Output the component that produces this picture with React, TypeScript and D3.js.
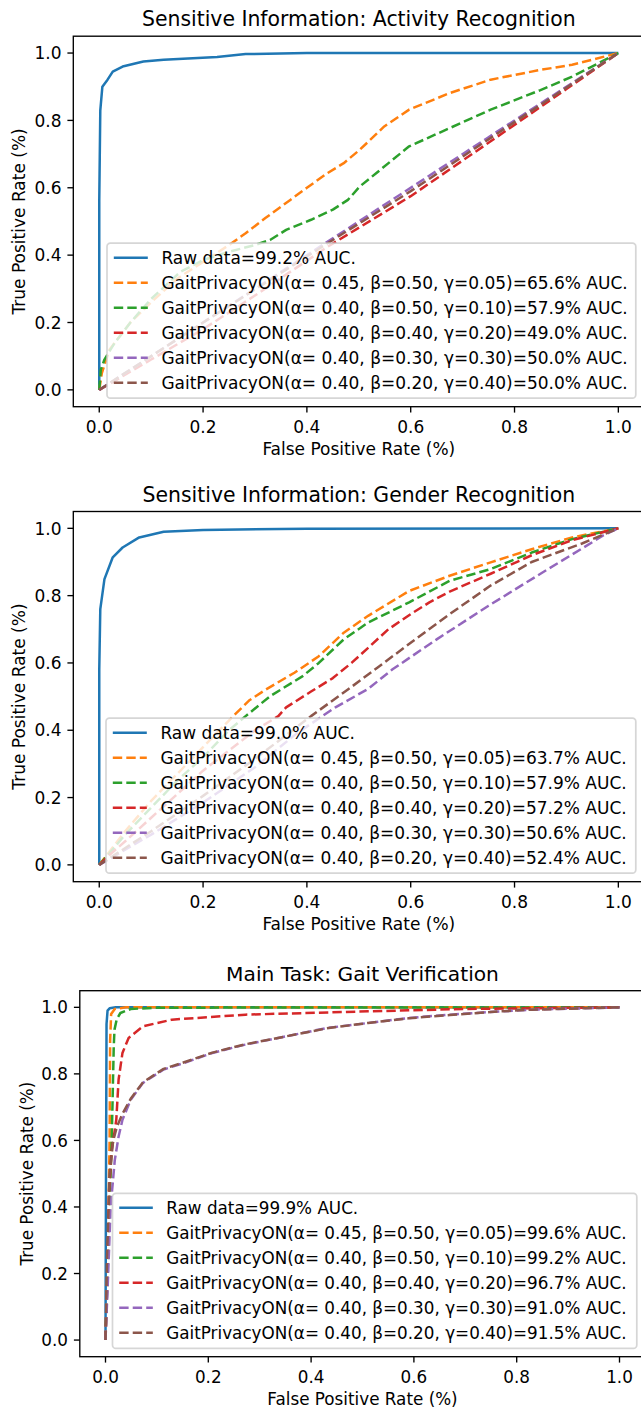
import * as d3 from "d3";

type Pt = [number, number];

// matplotlib tab10, in plotting order
const COLORS = ["#1f77b4", "#ff7f0e", "#2ca02c", "#d62728", "#9467bd", "#8c564b"];
const TICKS = [0, 0.2, 0.4, 0.6, 0.8, 1.0];
const PARAMS = [
  "α= 0.45, β=0.50, γ=0.05",
  "α= 0.40, β=0.50, γ=0.10",
  "α= 0.40, β=0.40, γ=0.20",
  "α= 0.40, β=0.30, γ=0.30",
  "α= 0.40, β=0.20, γ=0.40",
];

const TITLES = [
  "Sensitive Information: Activity Recognition",
  "Sensitive Information: Gender Recognition",
  "Main Task: Gait Verification",
];

const activityAuc = ["99.2", "65.6", "57.9", "49.0", "50.0", "50.0"];
const genderAuc = ["99.0", "63.7", "57.9", "57.2", "50.6", "52.4"];
const gaitAuc = ["99.9", "99.6", "99.2", "96.7", "91.0", "91.5"];

// ROC points [fpr, tpr]
const activityRaw: Pt[] = [[0, 0], [0, 0.56], [0.002, 0.83], [0.006, 0.9], [0.016, 0.921], [0.026, 0.945], [0.045, 0.96], [0.085, 0.975], [0.124, 0.98], [0.227, 0.988], [0.282, 0.997], [0.4, 1], [1, 1]];
const activityA: Pt[] = [[0, 0], [0.005, 0.05], [0.02, 0.12], [0.06, 0.2], [0.1, 0.26], [0.15, 0.33], [0.2, 0.38], [0.25, 0.43], [0.282, 0.465], [0.32, 0.51], [0.368, 0.564], [0.4, 0.6], [0.439, 0.643], [0.471, 0.673], [0.502, 0.713], [0.549, 0.782], [0.597, 0.832], [0.675, 0.881], [0.754, 0.921], [0.85, 0.95], [0.911, 0.965], [1, 1]];
const activityB: Pt[] = [[0, 0], [0.003, 0.06], [0.01, 0.09], [0.03, 0.14], [0.06, 0.2], [0.1, 0.27], [0.156, 0.35], [0.2, 0.385], [0.25, 0.41], [0.3, 0.43], [0.329, 0.445], [0.36, 0.475], [0.408, 0.505], [0.45, 0.535], [0.479, 0.564], [0.502, 0.604], [0.534, 0.644], [0.597, 0.723], [0.675, 0.777], [0.754, 0.832], [0.85, 0.89], [0.911, 0.93], [1, 1]];
const activityC: Pt[] = [[0, 0], [0.1, 0.09], [0.2, 0.18], [0.3, 0.28], [0.44, 0.425], [0.6, 0.575], [0.754, 0.738], [0.9, 0.893], [1, 1]];
const activityD: Pt[] = [[0, 0], [0.25, 0.25], [0.5, 0.5], [0.75, 0.75], [1, 1]];
const activityE: Pt[] = [[0, 0], [0.2, 0.2], [0.45, 0.445], [0.6, 0.59], [0.8, 0.795], [1, 1]];

const genderRaw: Pt[] = [[0, 0], [0, 0.58], [0.002, 0.76], [0.01, 0.849], [0.026, 0.914], [0.045, 0.943], [0.077, 0.973], [0.124, 0.99], [0.2, 0.995], [0.4, 0.999], [1, 1]];
const genderA: Pt[] = [[0, 0], [0.02, 0.04], [0.05, 0.1], [0.1, 0.19], [0.15, 0.27], [0.2, 0.35], [0.258, 0.442], [0.29, 0.49], [0.321, 0.521], [0.376, 0.571], [0.423, 0.62], [0.471, 0.69], [0.518, 0.74], [0.597, 0.814], [0.675, 0.859], [0.754, 0.899], [0.833, 0.938], [0.911, 0.973], [1, 1]];
const genderB: Pt[] = [[0, 0], [0.02, 0.035], [0.05, 0.09], [0.1, 0.17], [0.15, 0.25], [0.2, 0.32], [0.25, 0.4], [0.282, 0.442], [0.329, 0.501], [0.392, 0.561], [0.423, 0.6], [0.471, 0.67], [0.518, 0.72], [0.597, 0.78], [0.675, 0.844], [0.754, 0.879], [0.833, 0.928], [0.911, 0.968], [1, 1]];
const genderC: Pt[] = [[0, 0], [0.02, 0.03], [0.05, 0.07], [0.1, 0.14], [0.15, 0.21], [0.2, 0.28], [0.25, 0.34], [0.3, 0.4], [0.345, 0.442], [0.36, 0.468], [0.408, 0.515], [0.45, 0.555], [0.486, 0.6], [0.518, 0.645], [0.557, 0.7], [0.6, 0.745], [0.636, 0.78], [0.675, 0.812], [0.754, 0.865], [0.833, 0.92], [0.911, 0.965], [1, 1]];
const genderD: Pt[] = [[0, 0], [0.1, 0.09], [0.2, 0.185], [0.3, 0.29], [0.38, 0.39], [0.423, 0.435], [0.455, 0.468], [0.518, 0.523], [0.565, 0.581], [0.65, 0.67], [0.75, 0.77], [0.85, 0.865], [0.93, 0.94], [0.97, 0.978], [1, 1]];
const genderE: Pt[] = [[0, 0], [0.1, 0.1], [0.2, 0.205], [0.3, 0.315], [0.408, 0.442], [0.479, 0.521], [0.535, 0.585], [0.6, 0.66], [0.675, 0.745], [0.754, 0.83], [0.833, 0.9], [0.93, 0.955], [1, 1]];

const gaitRaw: Pt[] = [[0, 0], [0.001, 0.5], [0.002, 0.95], [0.004, 0.99], [0.008, 0.997], [0.02, 1], [1, 1]];
const gaitA: Pt[] = [[0, 0], [0.005, 0.3], [0.008, 0.6], [0.009, 0.9], [0.011, 0.98], [0.018, 0.995], [0.04, 1], [1, 1]];
const gaitB: Pt[] = [[0, 0], [0.006, 0.3], [0.012, 0.6], [0.0135, 0.7], [0.016, 0.88], [0.0175, 0.933], [0.022, 0.965], [0.029, 0.983], [0.049, 0.995], [0.1, 0.999], [1, 1]];
const gaitC: Pt[] = [[0, 0], [0.004, 0.2], [0.007, 0.45], [0.012, 0.57], [0.018, 0.63], [0.021, 0.662], [0.0255, 0.783], [0.033, 0.863], [0.045, 0.908], [0.073, 0.943], [0.129, 0.963], [0.272, 0.978], [0.511, 0.988], [0.695, 0.995], [1, 1]];
const gaitD: Pt[] = [[0, 0], [0.004, 0.15], [0.01, 0.4], [0.018, 0.54], [0.0255, 0.612], [0.033, 0.662], [0.049, 0.722], [0.073, 0.773], [0.113, 0.813], [0.153, 0.833], [0.208, 0.863], [0.272, 0.888], [0.352, 0.913], [0.431, 0.938], [0.511, 0.953], [0.59, 0.968], [0.67, 0.978], [0.749, 0.986], [0.829, 0.993], [1, 1]];
const gaitE: Pt[] = [[0, 0], [0.003, 0.25], [0.008, 0.5], [0.015, 0.6], [0.022, 0.64], [0.033, 0.68], [0.049, 0.725], [0.073, 0.775], [0.113, 0.815], [0.153, 0.835], [0.208, 0.864], [0.272, 0.889], [0.352, 0.913], [0.431, 0.937], [0.511, 0.953], [0.59, 0.967], [0.67, 0.977], [0.749, 0.986], [0.829, 0.993], [1, 1]];

// figure layout in pixels (each subplot was a separately saved figure)
const LAYOUT = [
  { left: 73.3, right: 644.3, top: 36.2, bottom: 406.7, legendLeft: 107, ylabelX: 25.3, font: 17, titleFont: 20.4 },
  { left: 73.3, right: 644.3, top: 511.5, bottom: 881.7, legendLeft: 106, ylabelX: 25.3, font: 17, titleFont: 20.4 },
  { left: 79.8, right: 645.2, top: 990.7, bottom: 1356.7, legendLeft: 112.5, ylabelX: 32.5, font: 16.8, titleFont: 20.2 },
];

const FONT = "DejaVu Sans";
const LW = 2.5;
const DASH = "9.4,4.1";

function Panel({ idx, series, aucs }: { idx: number; series: Pt[][]; aucs: string[] }) {
  const L = LAYOUT[idx];
  const x = d3.scaleLinear().domain([-0.05, 1.05]).range([L.left, L.right]);
  const y = d3.scaleLinear().domain([-0.05, 1.05]).range([L.bottom, L.top]);
  const line = d3.line<Pt>().x(d => x(d[0])).y(d => y(d[1]));
  const clipId = `clip${idx}`;
  const fmt = d3.format(".1f");
  const cap = L.font * 0.729;

  const labels = aucs.map((a, i) =>
    i === 0 ? `Raw data=${a}% AUC.` : `GaitPrivacyON(${PARAMS[i - 1]})=${a}% AUC.`
  );

  const legRight = L.right - L.font * 0.5;
  const legBottom = L.bottom - L.font * 0.5;
  const rowGap = 25;
  const legTop = legBottom - (rowGap * 6 + 5);

  return (
    <g fontFamily={FONT}>
      <clipPath id={clipId}>
        <rect x={L.left} y={L.top} width={L.right - L.left} height={L.bottom - L.top} />
      </clipPath>
      <text x={(L.left + L.right) / 2} y={L.top - 10} textAnchor="middle" fontSize={L.titleFont}>
        {TITLES[idx]}
      </text>
      <g clipPath={`url(#${clipId})`}>
        {series.map((s, i) => (
          <path
            key={i}
            d={line(s) ?? ""}
            fill="none"
            stroke={COLORS[i]}
            strokeWidth={LW}
            strokeDasharray={i === 0 ? undefined : DASH}
            strokeLinejoin="round"
          />
        ))}
      </g>
      {/* spines */}
      <rect x={L.left} y={L.top} width={L.right - L.left} height={L.bottom - L.top} fill="none" stroke="#000" strokeWidth={1.35} />
      {/* x ticks */}
      {TICKS.map(t => (
        <g key={`x${t}`}>
          <line x1={x(t)} x2={x(t)} y1={L.bottom} y2={L.bottom + 5.9} stroke="#000" strokeWidth={1.35} />
          <text x={x(t)} y={L.bottom + 26} textAnchor="middle" fontSize={L.font}>{fmt(t)}</text>
        </g>
      ))}
      {/* y ticks */}
      {TICKS.map(t => (
        <g key={`y${t}`}>
          <line x1={L.left - 5.9} x2={L.left} y1={y(t)} y2={y(t)} stroke="#000" strokeWidth={1.35} />
          <text x={L.left - 11.8} y={y(t) + cap / 2} textAnchor="end" fontSize={L.font}>{fmt(t)}</text>
        </g>
      ))}
      <text x={(L.left + L.right) / 2} y={L.bottom + 48} textAnchor="middle" fontSize={L.font}>
        False Positive Rate (%)
      </text>
      <text
        transform={`translate(${L.ylabelX},${(L.top + L.bottom) / 2}) rotate(-90)`}
        textAnchor="middle"
        fontSize={L.font}
      >
        True Positive Rate (%)
      </text>
      {/* legend */}
      <rect
        x={L.legendLeft}
        y={legTop}
        width={legRight - L.legendLeft}
        height={legBottom - legTop}
        rx={3.4}
        fill="#fff"
        fillOpacity={0.8}
        stroke="#cccccc"
        strokeOpacity={0.8}
        strokeWidth={1.7}
      />
      {labels.map((lab, i) => {
        const cy = legTop + 14.5 + rowGap * i;
        const hx = L.legendLeft + L.font * 0.4;
        return (
          <g key={lab}>
            <line
              x1={hx}
              x2={hx + L.font * 2}
              y1={cy}
              y2={cy}
              stroke={COLORS[i]}
              strokeWidth={LW}
              strokeDasharray={i === 0 ? undefined : DASH}
            />
            <text x={hx + L.font * 2.8} y={cy + cap / 2} fontSize={L.font}>{lab}</text>
          </g>
        );
      })}
    </g>
  );
}

export default function App() {
  return (
    <svg
      width={641}
      height={1409}
      style={{ position: "absolute", left: 0, top: 0, display: "block", background: "#fff" }}
    >
      <rect width={641} height={1409} fill="#fff" />
      <Panel idx={0} aucs={activityAuc} series={[activityRaw, activityA, activityB, activityC, activityD, activityE]} />
      <Panel idx={1} aucs={genderAuc} series={[genderRaw, genderA, genderB, genderC, genderD, genderE]} />
      <Panel idx={2} aucs={gaitAuc} series={[gaitRaw, gaitA, gaitB, gaitC, gaitD, gaitE]} />
    </svg>
  );
}
